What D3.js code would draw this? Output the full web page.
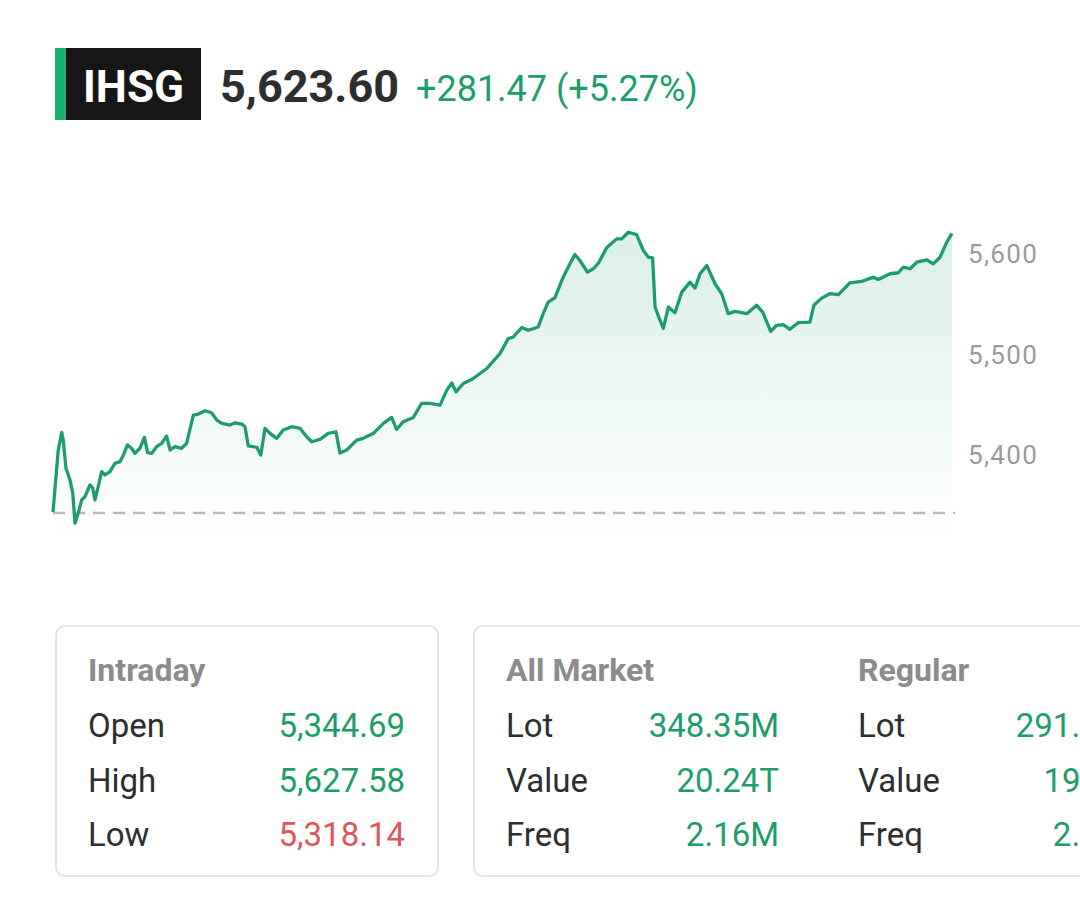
<!DOCTYPE html>
<html>
<head>
<meta charset="utf-8">
<script src="https://cdn.jsdelivr.net/npm/d3@7"></script>
<style>
  html, body { margin: 0; padding: 0; background: #fff; overflow: hidden; }
  svg { display: block; font-family: Roboto, "Noto Sans", sans-serif; }
</style>
</head>
<body>
<svg width="1080" height="902"></svg>
<script>
// header quote
var symbol = "IHSG";
var lastPrice = 5623.60;
var change = 281.47;
var changePct = 5.27;

// intraday series: minutes since open, index level
var minutes = [0, 2.1, 3.5, 4.1, 5.2, 6.8, 7.9, 8.8, 10.1, 11.5, 12.8, 14.8, 15.9, 16.8, 18.1, 19.5,
  20.8, 22.8, 24.8, 26.8, 28.2, 29.8, 31.5, 32.8, 34.8, 36.6, 37.9, 39.5, 41.5, 43.5, 45.5, 46.9,
  48.9, 51.5, 53.5, 56.2, 58.2, 60.9, 63.5, 65.6, 67.6, 70.9, 72.9, 75.6, 76.9, 78.2, 81.6, 83.2,
  84.9, 86.9, 89.6, 92.2, 95.6, 98.9, 101.6, 103.6, 106.9, 110.2, 113.3, 114.9, 117.6, 121.6, 124.2,
  128.3, 132.3, 135.6, 137.6, 140.3, 144.3, 147.6, 151.0, 155.0, 157.7, 159.7, 161.4, 164.3, 168.3,
  171.0, 173.7, 179.0, 182.3, 184.3, 187.7, 190.3, 194.3, 196.3, 198.3, 201.0, 204.3, 207.0, 209.0,
  211.0, 214.0, 216.4, 218.4, 221.7, 225.7, 227.7, 230.4, 233.7, 236.4, 238.4, 240.1, 241.1, 242.8,
  244.4, 246.4, 249.1, 251.8, 255.1, 257.1, 259.1, 261.8, 265.1, 267.8, 270.4, 273.1, 277.8, 281.8,
  284.2, 287.4, 289.8, 292.4, 295.1, 298.4, 303.1, 304.7, 307.8, 311.1, 314.5, 319.1, 323.8, 328.5,
  330.5, 335.2, 338.5, 340.5, 343.2, 345.9, 349.9, 352.5, 355.2, 357.9, 360];
var levels = [5343.0, 5405.0, 5422.6, 5414.9, 5386.8, 5375.1, 5362.2, 5332.0, 5342.0, 5355.2, 5358.5,
  5370.1, 5367.2, 5355.2, 5368.4, 5383.4, 5380.1, 5383.4, 5391.7, 5393.3, 5400.0, 5410.0, 5406.7,
  5401.7, 5406.7, 5417.6, 5402.3, 5401.7, 5408.3, 5411.6, 5418.9, 5405.0, 5408.3, 5406.7, 5411.6,
  5439.8, 5440.8, 5444.1, 5442.1, 5434.8, 5431.5, 5429.9, 5432.1, 5430.8, 5428.2, 5409.0, 5407.7,
  5400.0, 5426.6, 5421.6, 5416.6, 5424.9, 5428.2, 5426.6, 5418.2, 5413.2, 5415.6, 5421.6, 5423.2,
  5402.0, 5405.0, 5414.9, 5416.6, 5421.6, 5431.5, 5437.5, 5425.6, 5433.2, 5437.5, 5451.4, 5451.4,
  5449.8, 5464.7, 5471.9, 5463.0, 5471.3, 5476.3, 5481.3, 5486.3, 5501.2, 5516.1, 5517.7, 5527.1,
  5524.4, 5527.7, 5541.0, 5552.5, 5556.9, 5577.4, 5590.7, 5600.0, 5594.0, 5582.4, 5585.8, 5591.3,
  5606.7, 5615.6, 5615.6, 5622.2, 5619.9, 5604.0, 5597.3, 5596.7, 5547.6, 5536.0, 5526.4, 5547.6,
  5542.0, 5562.5, 5572.4, 5566.5, 5580.8, 5589.1, 5570.8, 5560.9, 5541.0, 5543.3, 5541.0, 5549.3,
  5542.6, 5523.4, 5529.4, 5530.0, 5525.4, 5532.0, 5532.6, 5549.3, 5556.5, 5560.9, 5559.9, 5571.8,
  5573.1, 5577.4, 5575.1, 5580.8, 5581.8, 5587.4, 5585.8, 5592.3, 5594.7, 5590.7, 5597.3, 5612.2, 5621.0];
var yTicks = [5400, 5500, 5600];

// stat cards
var intradayLabels = ["Open", "High", "Low"];
var intradayValues = ["5,344.69", "5,627.58", "5,318.14"];
var statLabels = ["Lot", "Value", "Freq"];
var allMarketValues = ["348.35M", "20.24T", "2.16M"];
var regularValues = ["291.12M", "19.04T", "2.12M"];

var green = "#1d9d6c", red = "#e0575b", dark = "#2e2e2e", grey = "#8c8c8c";
var prevClose = lastPrice - change;

var svg = d3.select("svg");

// ---- header
var head = svg.append("g");
head.append("rect").attr("x", 55).attr("y", 48).attr("width", 146).attr("height", 72).attr("fill", "#161616");
head.append("rect").attr("x", 55).attr("y", 48).attr("width", 11).attr("height", 72).attr("fill", "#19b070");
head.append("text").attr("x", 83).attr("y", 102)
    .attr("font-size", 44).attr("font-weight", 700).attr("fill", "#fff")
    .text(symbol);
head.append("text").attr("x", 220).attr("y", 102)
    .attr("font-size", 45).attr("font-weight", 700).attr("fill", dark)
    .text(d3.format(",.2f")(lastPrice));
head.append("text").attr("x", 416).attr("y", 101)
    .attr("font-size", 36).attr("fill", green)
    .text("+" + d3.format(".2f")(change) + " (+" + d3.format(".2f")(changePct) + "%)");

// ---- chart
var data = minutes.map(function (m, i) { return { t: m, v: levels[i] }; });

var x = d3.scaleLinear().domain([0, 360]).range([53, 952]);
var y = d3.scaleLinear().domain([5400, 5600]).range([455, 254.5]);

var defs = svg.append("defs");
var grad = defs.append("linearGradient").attr("id", "fillGrad")
    .attr("x1", 0).attr("y1", 0).attr("x2", 0).attr("y2", 1);
grad.append("stop").attr("offset", "0%").attr("stop-color", green).attr("stop-opacity", 0.16);
grad.append("stop").attr("offset", "100%").attr("stop-color", green).attr("stop-opacity", 0);

var area = d3.area()
    .x(function (d) { return x(d.t); })
    .y0(545)
    .y1(function (d) { return y(d.v); });

svg.append("path").datum(data)
    .attr("d", area)
    .attr("fill", "url(#fillGrad)");

svg.append("line")
    .attr("x1", 53).attr("x2", 955)
    .attr("y1", y(prevClose)).attr("y2", y(prevClose))
    .attr("stroke", "#bbbbbb").attr("stroke-width", 2.5)
    .attr("stroke-dasharray", "12,8");

var line = d3.line()
    .x(function (d) { return x(d.t); })
    .y(function (d) { return y(d.v); });

svg.append("path").datum(data)
    .attr("d", line)
    .attr("fill", "none")
    .attr("stroke", green)
    .attr("stroke-width", 3.3)
    .attr("stroke-linejoin", "round");

var yAxis = svg.append("g")
    .attr("transform", "translate(962,0)")
    .call(d3.axisRight(y).tickValues(yTicks).tickFormat(d3.format(",")).tickSize(0).tickPadding(6));
yAxis.select(".domain").remove();
yAxis.selectAll("text")
    .attr("font-family", "Roboto, sans-serif")
    .attr("font-size", 26).attr("letter-spacing", 1.3).attr("fill", "#9a9a9a");

// ---- cards
function card(x0, x1) {
    svg.append("rect").attr("x", x0).attr("y", 626).attr("width", x1 - x0).attr("height", 250)
        .attr("rx", 9).attr("fill", "#fff").attr("stroke", "#e4e4e4").attr("stroke-width", 2);
}
card(56, 438);
card(474, 1100);

function column(titleText, lx, rx, values, labels, colors) {
    svg.append("text").attr("x", lx).attr("y", 681)
        .attr("font-size", 32).attr("font-weight", 700).attr("fill", grey)
        .text(titleText);
    var rowY = d3.scalePoint().domain(labels).range([737, 846]);
    labels.forEach(function (l, i) {
        svg.append("text").attr("x", lx).attr("y", rowY(l))
            .attr("font-size", 33).attr("fill", dark).text(l);
        svg.append("text").attr("x", rx).attr("y", rowY(l))
            .attr("font-size", 33).attr("fill", colors[i]).attr("text-anchor", "end")
            .text(values[i]);
    });
}
column("Intraday", 88, 405, intradayValues, intradayLabels, [green, green, red]);
column("All Market", 506, 779, allMarketValues, statLabels, [green, green, green]);
column("Regular", 858, 1146, regularValues, statLabels, [green, green, green]);
</script>
</body>
</html>
